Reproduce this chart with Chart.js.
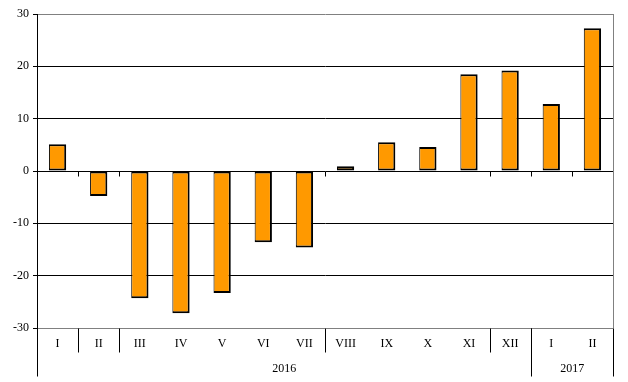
<!DOCTYPE html>
<html><head><meta charset="utf-8">
<script src="https://cdn.jsdelivr.net/npm/chart.js@4"></script>
<style>html,body{margin:0;padding:0;background:#fff;}canvas{display:block;}</style>
</head><body>
<canvas id="c" width="628" height="382"></canvas>
<script>
const categories = ['I','II','III','IV','V','VI','VII','VIII','IX','X','XI','XII','I','II'];
const values = [5.1,-4.8,-24.3,-27.2,-23.3,-13.6,-14.6,0.9,5.5,4.6,18.5,19.2,12.8,27.3];
const yearLabels = ['2016','2017'];
const yearFirstIndex = [0,12];
const yearLastIndex = [11,13];
// boundaries (after category index) drawn as separators in the source
const separatorAfter = [0,1,6,10,11];
const yMin = -30, yMax = 30, yStep = 10;

const FONT = '12px "Liberation Serif", "Times New Roman", serif';

const tablePlugin = {
  id: 'table',
  afterDraw(chart) {
    const ctx = chart.ctx;
    const x = chart.scales.x, y = chart.scales.y;
    const ca = chart.chartArea;
    const bottom = Math.round(ca.bottom) + 0.5;
    const rowH = 24, row2H = 24;
    const boundary = i => Math.round((x.getPixelForValue(i) + x.getPixelForValue(i + 1)) / 2) + 0.5;
    const zeroY = Math.round(y.getPixelForValue(0)) + 0.5;
    ctx.save();
    ctx.lineWidth = 1;
    // right border (gray) above axis
    ctx.strokeStyle = '#808080';
    const rx = Math.round(ca.right) + 0.5;
    ctx.beginPath(); ctx.moveTo(rx, ca.top); ctx.lineTo(rx, bottom); ctx.stroke();
    ctx.strokeStyle = '#000';
    // ticks on zero line
    ctx.beginPath();
    separatorAfter.concat([12]).forEach(i => {
      const bx = boundary(i);
      ctx.moveTo(bx, zeroY); ctx.lineTo(bx, zeroY + 5);
    });
    ctx.stroke();
    // table separators
    ctx.beginPath();
    separatorAfter.forEach(i => {
      const bx = boundary(i);
      ctx.moveTo(bx, bottom); ctx.lineTo(bx, bottom + rowH);
    });
    // full-height separators: left, between years, right
    const lx = Math.round(ca.left) + 0.5;
    ctx.moveTo(lx, bottom); ctx.lineTo(lx, bottom + rowH + row2H);
    yearFirstIndex.slice(1).forEach(i => {
      const bx = boundary(i - 1);
      ctx.moveTo(bx, bottom); ctx.lineTo(bx, bottom + rowH + row2H);
    });
    ctx.moveTo(rx, bottom); ctx.lineTo(rx, bottom + rowH + row2H);
    ctx.stroke();
    // labels
    ctx.fillStyle = '#000';
    ctx.font = FONT;
    ctx.textAlign = 'center';
    ctx.textBaseline = 'middle';
    categories.forEach((c, i) => {
      ctx.fillText(c, x.getPixelForValue(i), bottom + 15);
    });
    yearLabels.forEach((yl, k) => {
      const a = yearFirstIndex[k] === 0 ? ca.left : boundary(yearFirstIndex[k] - 1);
      const b = yearLastIndex[k] === categories.length - 1 ? ca.right : boundary(yearLastIndex[k]);
      ctx.fillText(yl, (a + b) / 2, bottom + rowH + 16);
    });
    ctx.restore();
  }
};

new Chart(document.getElementById('c'), {
  type: 'bar',
  data: {
    labels: categories,
    datasets: [{
      data: values,
      backgroundColor: '#FF9900',
      borderColor: '#000',
      borderWidth: {left: 1, right: 2, top: 2, bottom: 2},
      borderSkipped: false,
      barPercentage: 0.42,
      categoryPercentage: 1
    }]
  },
  options: {
    responsive: false,
    devicePixelRatio: 1,
    animation: false,
    layout: {padding: {top: 14, right: 15, bottom: 54, left: 0}},
    plugins: {legend: {display: false}, tooltip: {enabled: false}},
    scales: {
      x: {display: false},
      y: {
        min: yMin, max: yMax,
        afterFit(s) { s.width = 37; },
        ticks: {stepSize: yStep, color: '#000', font: {family: '"Liberation Serif", "Times New Roman", serif', size: 12}, padding: 4},
        grid: {
          color: c => (c.tick && (c.tick.value === yMax || c.tick.value === yMin)) ? '#808080' : '#000',
          lineWidth: 1,
          tickLength: 4,
          tickColor: '#000',
          z: 0
        },
        border: {display: true, color: '#000', width: 1}
      }
    }
  },
  plugins: [tablePlugin]
});
</script>
</body></html>
